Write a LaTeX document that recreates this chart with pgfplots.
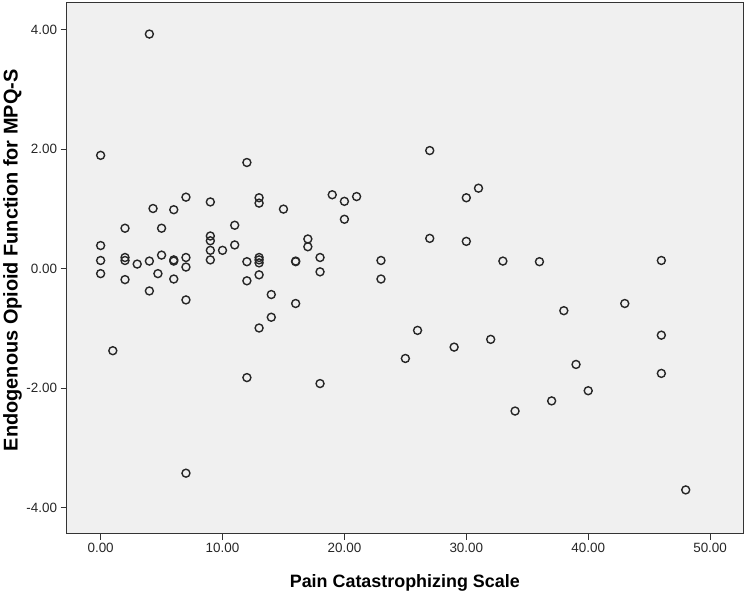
\documentclass[border=0pt]{standalone}
\usepackage{fontspec}
\setmainfont{Liberation Sans}
\usepackage{pgfplots}
\pgfplotsset{compat=1.18}

\definecolor{panel}{HTML}{F0F0F0}
\definecolor{ink}{HTML}{333333}
\definecolor{ring}{HTML}{262626}

\begin{document}
\begin{tikzpicture}
\begin{axis}[
    scale only axis,
    width=677bp,
    height=531bp,
    xmin=-2.79, xmax=52.7,
    ymin=-4.43, ymax=4.45,
    axis background/.style={fill=panel},
    axis line style={draw=ink, line width=1bp},
    xtick={0,10,...,50},
    ytick={-4,-2,0,2,4},
    tick align=outside,
    tick pos=left,
    major tick length=6bp,
    tick style={draw=ink, line width=1bp},
    /pgf/number format/fixed,
    /pgf/number format/fixed zerofill,
    /pgf/number format/precision=2,
    /pgf/number format/assume math mode=true,
    ticklabel style={font=\fontsize{13.5}{15}\selectfont, text=black!85},
    xlabel={Pain Catastrophizing Scale},
    ylabel={Endogenous Opioid Function for MPQ-S},
    xlabel style={font=\fontsize{18}{20}\selectfont\bfseries,
        at={(axis description cs:0.5,-0.0923)}, anchor=center},
    ylabel style={font=\fontsize{20}{22}\selectfont\bfseries,
        at={(axis description cs:-0.0798,0.515)}, anchor=center},
]
\path (rel axis cs:0,0) coordinate (sw) (rel axis cs:1,1) coordinate (ne);

% PCS score vs. opioid function
\addplot[only marks, mark=o, mark size=4bp,
         mark options={draw=ring, line width=1.4bp}] coordinates {
    (4,3.93) (0,1.90) (12,1.78) (7,1.20) (4.3,1.01) (6,0.99) (9,1.12)
    (13,1.19) (13,1.10) (15,1.00) (2,0.68) (5,0.68) (11,0.73)
    (9,0.55) (9,0.47) (17,0.50) (17,0.37) (0,0.39) (11,0.40)
    (9,0.31) (10,0.31) (5,0.23) (18,0.19) (0,0.14) (2,0.19) (2,0.14)
    (3,0.08) (4,0.13) (6,0.15) (6,0.13) (7,0.19) (7,0.03) (9,0.15)
    (12,0.12) (13,0.19) (13,0.15) (13,0.10) (16,0.12) (16,0.13)
    (0,-0.08) (2,-0.18) (4.7,-0.08) (4,-0.37) (6,-0.17) (7,-0.52)
    (1,-1.37) (7,-3.42) (12,-0.20) (13,-0.10) (14,-0.43) (16,-0.58)
    (14,-0.81) (13,-0.99) (12,-1.82) (18,-0.05) (18,-1.92)
    (27,1.98) (19,1.24) (20,1.13) (21,1.21) (20,0.83) (30,1.19)
    (31,1.35) (27,0.51) (30,0.46) (23,0.14) (33,0.13) (36,0.12)
    (23,-0.17) (26,-1.03) (25,-1.50) (29,-1.31) (32,-1.18)
    (34,-2.38) (37,-2.21) (46,0.14) (43,-0.58) (38,-0.70)
    (46,-1.11) (39,-1.60) (46,-1.75) (40,-2.04) (48,-3.70)
};
\end{axis}
\path ([shift={(-66bp,-61bp)}]sw) rectangle ([shift={(7bp,3bp)}]ne);
\end{tikzpicture}
\end{document}
